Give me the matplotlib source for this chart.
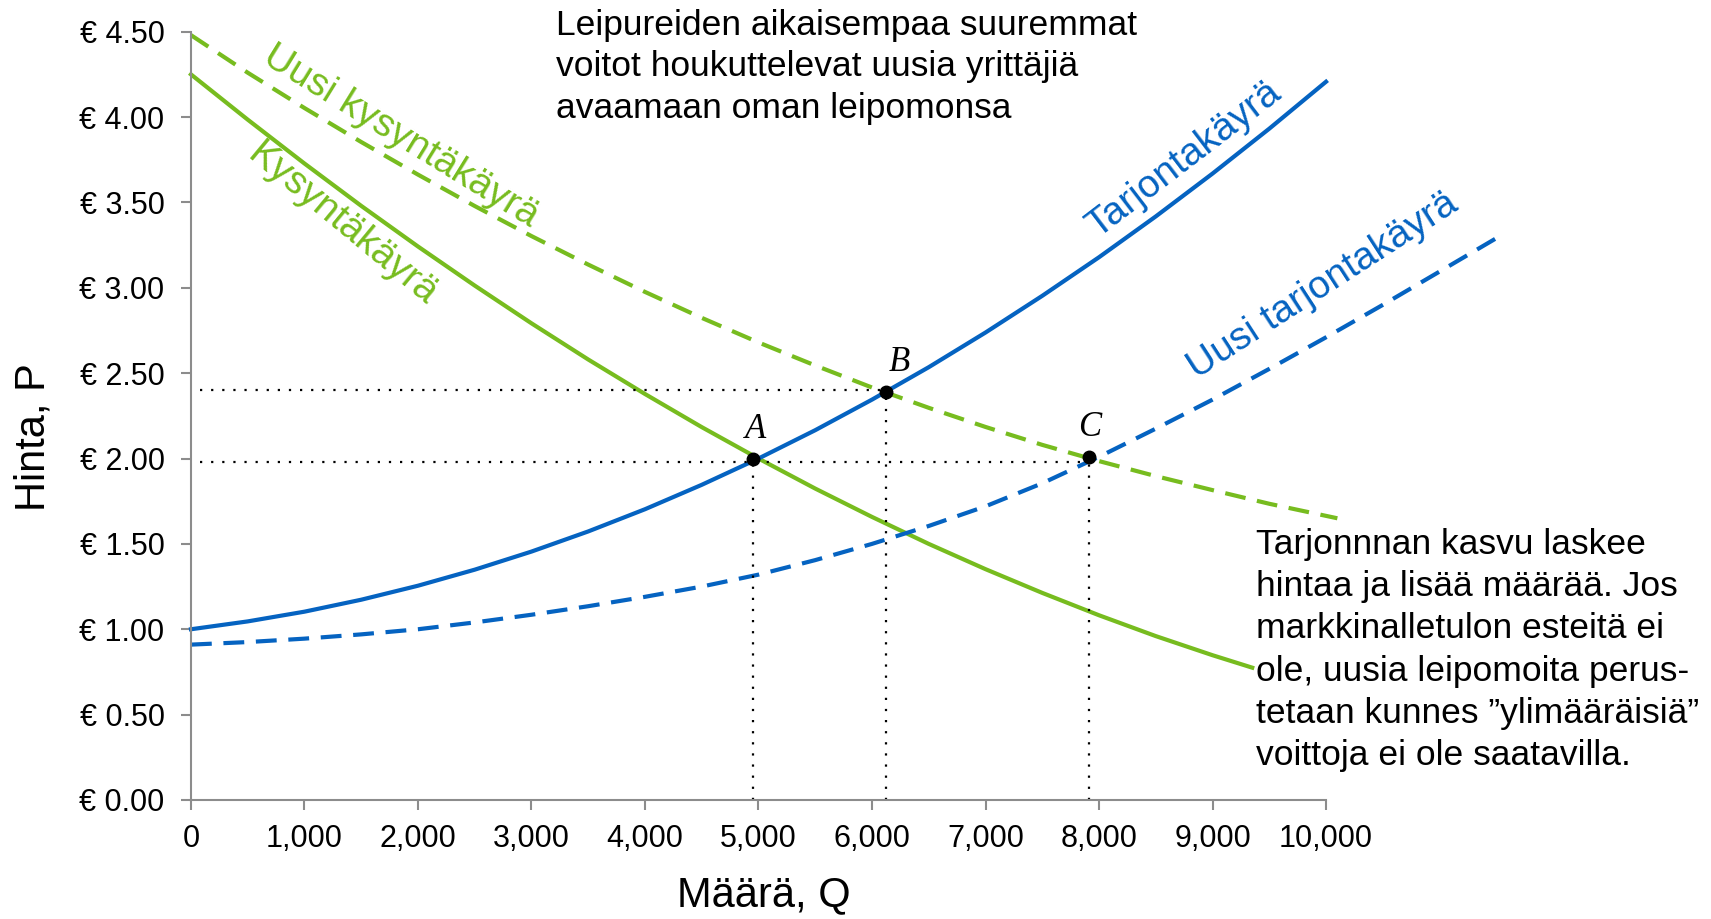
import matplotlib.pyplot as plt

# Data
q_demand = [0, 500, 1000, 1500, 2000, 2500, 3000, 3500, 4000, 4500, 5000,
            5500, 6000, 6500, 7000, 7500, 8000, 8500, 9000, 9350]
p_demand = [4.25, 3.985, 3.728, 3.48, 3.242, 3.013, 2.792, 2.58, 2.378, 2.184, 2.0,
            1.824, 1.658, 1.50, 1.352, 1.213, 1.082, 0.96, 0.848, 0.775]

q_new_demand = [0, 500, 1000, 1500, 2000, 2500, 3000, 3500, 4000, 4500, 5000,
                5500, 6000, 6500, 7000, 7500, 8000, 8500, 9000, 9500, 10100]
p_new_demand = [4.48, 4.26, 4.053, 3.854, 3.663, 3.479, 3.303, 3.136, 2.976, 2.824, 2.68,
                2.545, 2.416, 2.297, 2.185, 2.08, 1.985, 1.897, 1.815, 1.735, 1.65]

q_supply = [0, 500, 1000, 1500, 2000, 2500, 3000, 3500, 4000, 4500, 5000,
            5500, 6000, 6500, 7000, 7500, 8000, 8500, 9000, 9500, 10000]
p_supply = [1.0, 1.046, 1.103, 1.173, 1.255, 1.349, 1.455, 1.573, 1.703, 1.846, 2.0,
            2.166, 2.345, 2.535, 2.738, 2.953, 3.179, 3.418, 3.669, 3.932, 4.207]

q_new_supply = [0, 500, 1000, 1500, 2000, 2500, 3000, 3500, 4000, 4500, 5000, 5500,
                6000, 6500, 7000, 7500, 8000, 8500, 9000, 9500, 10000, 10500, 11000, 11550]
p_new_supply = [0.91, 0.925, 0.945, 0.97, 1.0, 1.04, 1.085, 1.135, 1.19, 1.25, 1.32, 1.405,
                1.50, 1.605, 1.72, 1.855, 2.01, 2.175, 2.345, 2.525, 2.71, 2.9, 3.095, 3.31]

# equilibrium points A, B, C
point_names = ['A', 'B', 'C']
point_q = [4950, 6120, 7910]
point_p = [2.0, 2.39, 2.01]
guide_p = [1.98, 2.40, 1.98]

x_ticks = [0, 1000, 2000, 3000, 4000, 5000, 6000, 7000, 8000, 9000, 10000]
x_labels = ['0', '1,000', '2,000', '3,000', '4,000', '5,000', '6,000',
            '7,000', '8,000', '9,000', '10,000']
y_ticks = [0, 0.5, 1.0, 1.5, 2.0, 2.5, 3.0, 3.5, 4.0, 4.5]
y_labels = ['€ 0.00', '€ 0.50', '€ 1.00', '€ 1.50', '€ 2.00',
            '€ 2.50', '€ 3.00', '€ 3.50', '€ 4.00', '€ 4.50']

green = '#77BC1F'
blue = '#0563C1'
grey = '#8C8C8C'

plt.rcParams['font.family'] = ['Liberation Sans', 'DejaVu Sans']

fig = plt.figure(figsize=(17.11, 9.19), dpi=100)
ax = fig.add_axes([0.1116, 0.1295, 0.6634, 0.836])

lw = 3.0
dash = (5, 2.8)
ax.plot(q_demand, p_demand, color=green, lw=lw, clip_on=False)
ax.plot(q_new_demand, p_new_demand, color=green, lw=lw, dashes=dash, clip_on=False)
ax.plot(q_supply, p_supply, color=blue, lw=lw, clip_on=False)
ax.plot(q_new_supply, p_new_supply, color=blue, lw=lw, dashes=dash, clip_on=False)

# dotted guide lines
dots = (0, (1, 4))
ax.hlines(guide_p[1], 80, point_q[1], colors='black', lw=1.6, linestyles=dots)
ax.hlines(guide_p[0], 80, point_q[2], colors='black', lw=1.6, linestyles=dots)
for q, p in zip(point_q, point_p):
    ax.vlines(q, 0, p, colors='black', lw=1.6, linestyles=dots)

ax.plot(point_q, point_p, 'o', color='black', ms=9, zorder=5)
name_shift = [25, 120, 10]
for name, q, p, dq in zip(point_names, point_q, point_p, name_shift):
    ax.text(q + dq, p + 0.12, name, family=['Liberation Serif', 'DejaVu Serif'],
            style='italic', fontsize=25, ha='center', va='baseline')

ax.set_xlim(0, 10000)
ax.set_ylim(0, 4.5)
ax.set_xticks(x_ticks)
ax.set_xticklabels(x_labels, fontsize=22)
ax.set_yticks(y_ticks)
ax.set_yticklabels(y_labels, fontsize=22)
ax.tick_params(axis='both', colors=grey, labelcolor='black', length=7, width=1.5)
ax.tick_params(axis='y', pad=12)
ax.tick_params(axis='x', pad=10)
for side in ['top', 'right']:
    ax.spines[side].set_visible(False)
for side in ['left', 'bottom']:
    ax.spines[side].set_color(grey)
    ax.spines[side].set_linewidth(1.5)

ax.set_xlabel('Määrä, Q', fontsize=30, va='center')
ax.xaxis.set_label_coords(0.505, -0.124)
ax.set_ylabel('Hinta, P', fontsize=30, va='center')
ax.yaxis.set_label_coords(-0.139, 0.473)

# curve labels
ax.text(1846, 3.89, 'Uusi kysyntäkäyrä', color=green, fontsize=28,
        rotation=-31.6, ha='center', va='center', rotation_mode='anchor')
ax.text(1337, 3.37, 'Kysyntäkäyrä', color=green, fontsize=28,
        rotation=-39.6, ha='center', va='center', rotation_mode='anchor')
ax.text(8750, 3.75, 'Tarjontakäyrä', color=blue, fontsize=28,
        rotation=37.4, ha='center', va='center', rotation_mode='anchor')
ax.text(9971, 3.01, 'Uusi tarjontakäyrä', color=blue, fontsize=28,
        rotation=32.9, ha='center', va='center', rotation_mode='anchor')

# annotations
ax.text(3220, 4.635, 'Leipureiden aikaisempaa suuremmat\nvoitot houkuttelevat uusia yrittäjiä\n'
        'avaamaan oman leipomonsa', fontsize=25.5, ha='left', va='top',
        linespacing=1.34, clip_on=False)
ax.text(9385, 1.595, 'Tarjonnnan kasvu laskee\nhintaa ja lisää määrää. Jos\n'
        'markkinalletulon esteitä ei\nole, uusia leipomoita perus-\n'
        'tetaan kunnes ”ylimääräisiä”\nvoittoja ei ole saatavilla.',
        fontsize=25.5, ha='left', va='top', linespacing=1.36, clip_on=False)

fig.savefig('out.png', dpi=100)
